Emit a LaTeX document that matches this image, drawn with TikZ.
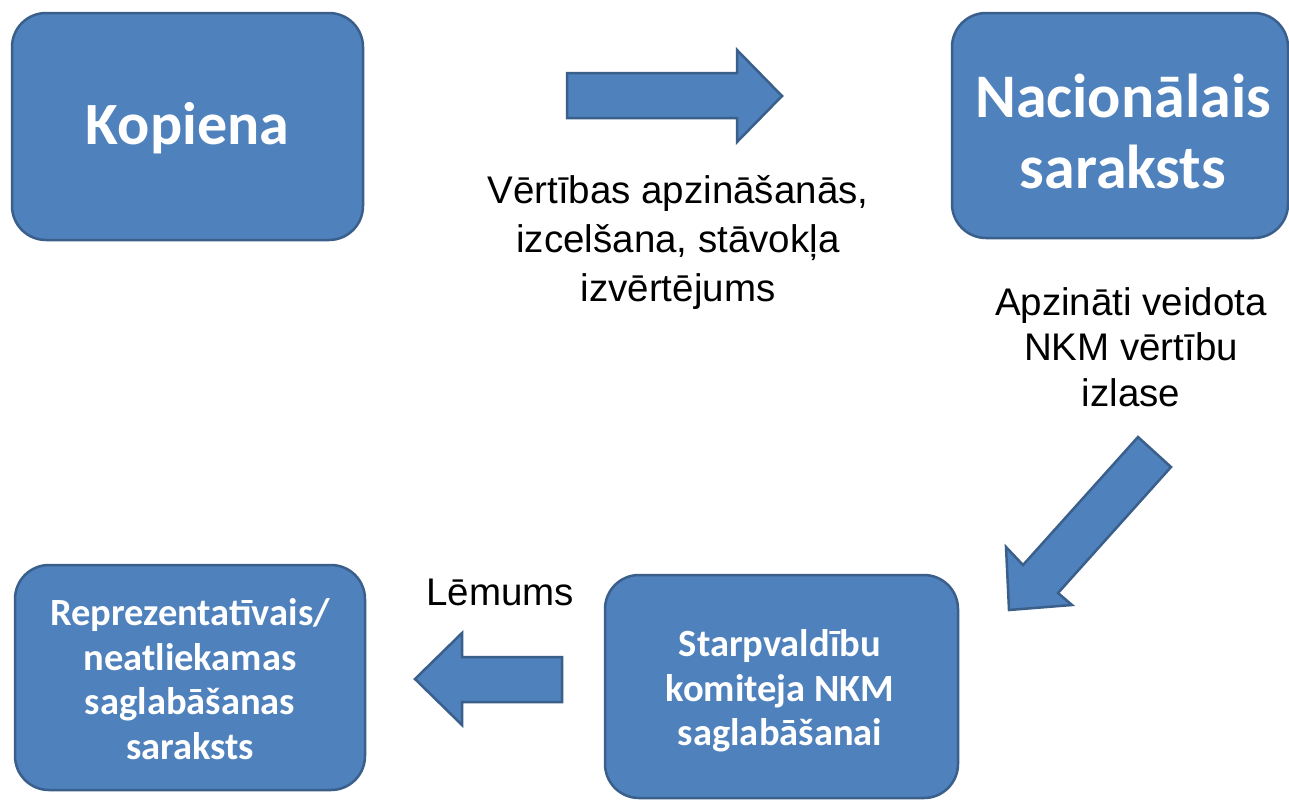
\documentclass[tikz,border=0pt]{standalone}
\usepackage{fontspec}
\setmainfont{Liberation Sans}
\newfontfamily\boxfont{Carlito}
\definecolor{boxblue}{HTML}{4F81BD}
\definecolor{boxedge}{HTML}{3A5F8B}
\tikzset{
  bluebox/.style={draw=boxedge, fill=boxblue, line width=2.5pt, rounded corners=34pt,
    inner sep=0pt},
  boxtext/.style={align=center, text=white, inner sep=0pt},
  blockarrow/.style={draw=boxedge, fill=boxblue, line width=2.5pt, line join=miter},
  lab/.style={align=center, text=black, inner sep=0pt}
}
\begin{document}
\begin{tikzpicture}[x=1pt,y=-1pt]
\useasboundingbox (0,0) rectangle (1289,801);
\fill[white] (0,0) rectangle (1289,801);

% boxes
\node[bluebox, minimum width=351pt, minimum height=227pt] (kop) at (187.5,126.5) {};
\node[boxtext, font=\boxfont\bfseries\fontsize{60}{72}\selectfont] (kopT) at (187.5,128) {Kopiena};

\node[bluebox, minimum width=336pt, minimum height=225pt] (nac) at (1120,125.5) {};
\node[boxtext, font=\boxfont\bfseries\fontsize{62}{71}\selectfont] (nacT) at (1123,131)
  {Nacionālais\\saraksts};

\node[bluebox, minimum width=350pt, minimum height=225pt] (rep) at (190,677.5) {};
\node[boxtext, font=\boxfont\bfseries\fontsize{38.5}{44.5}\selectfont] (repT) at (190,679)
  {Reprezentatīvais/\\neatliekamas\\saglabāšanas\\saraksts};

\node[bluebox, minimum width=353pt, minimum height=223pt] (sta) at (781.5,686.5) {};
\node[boxtext, font=\boxfont\bfseries\fontsize{38.5}{44.5}\selectfont] (staT) at (780,691)
  {Starpvaldību\\komiteja NKM\\saglabāšanai};

% labels
\node[lab, font=\fontsize{38.5}{49}\selectfont] (l1) at (678,242)
  {Vērtības apzināšanās,\\izcelšana, stāvokļa\\izvērtējums};
\node[lab, font=\fontsize{38.5}{45.5}\selectfont] (l2) at (1131,347)
  {Apzināti veidota\\NKM vērtību\\izlase};
\node[lab, font=\fontsize{38.5}{45}\selectfont] (l3) at (500,592) {Lēmums};

% block arrows
\draw[blockarrow] (567,73) -- (737,73) -- (737,50) -- (782,96) -- (737,142)
  -- (737,118) -- (567,118) -- cycle;
\draw[blockarrow] (1138,437) -- (1171,467) -- (1058,593) -- (1072,605)
  -- (1009,610) -- (1006,547) -- (1023,565) -- cycle;
\draw[blockarrow] (562,657) -- (462,657) -- (462,633) -- (415,679)
  -- (462,725) -- (462,702) -- (562,702) -- cycle;
\end{tikzpicture}
\end{document}
